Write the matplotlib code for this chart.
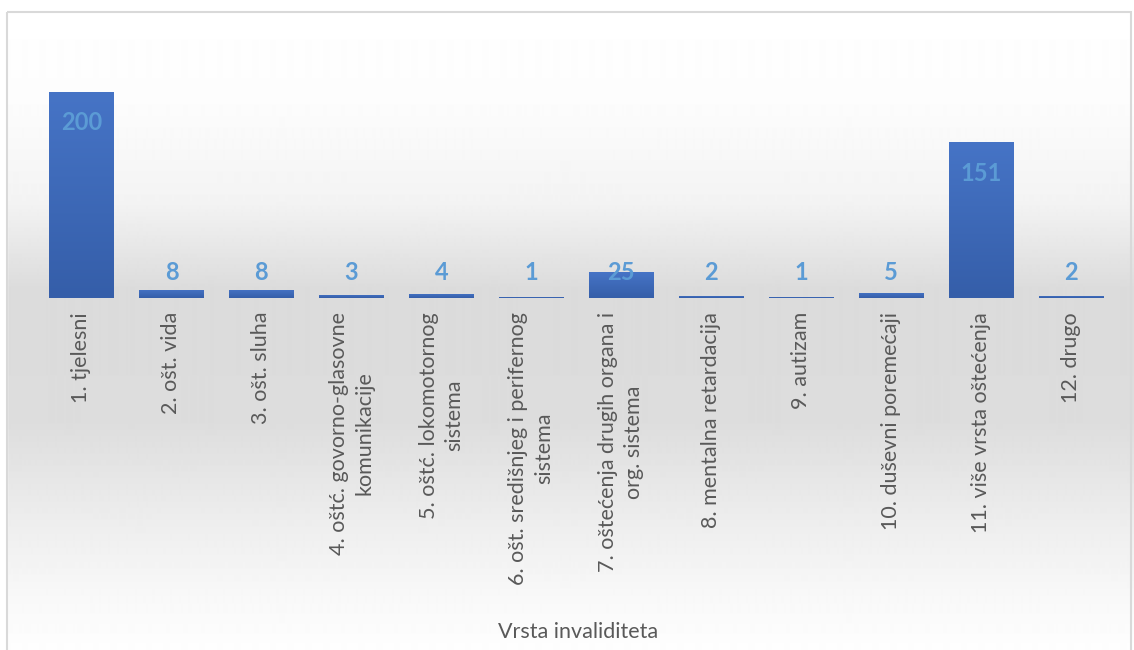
import numpy as np
import matplotlib
matplotlib.use('Agg')
import matplotlib.pyplot as plt
from matplotlib.patches import Rectangle
from matplotlib.colors import LinearSegmentedColormap

plt.rcParams['font.family'] = ['Lato', 'DejaVu Sans']

# data
categories = [
    '1. tjelesni',
    '2. ošt. vida',
    '3. ošt. sluha',
    '4. oštć. govorno-glasovne\nkomunikacije',
    '5. oštć. lokomotornog\nsistema',
    '6. ošt. središnjeg i perifernog\nsistema',
    '7. oštećenja drugih organa i\norg. sistema',
    '8. mentalna retardacija',
    '9. autizam',
    '10. duševni poremećaji',
    '11. više vrsta oštećenja',
    '12. drugo',
]
values = [200, 8, 8, 3, 4, 1, 25, 2, 1, 5, 151, 2]
axis_title = 'Vrsta invaliditeta'

W, H = 1134, 650
fig = plt.figure(figsize=(W / 100, H / 100), dpi=100)

# background: white -> grey -> white vertical gradient behind the chart
bg = fig.add_axes([0, 0, 1, 1], zorder=-2)
ys = np.arange(H)
stops_y = [0, 100, 200, 290, 420, 520, 600, 650]
stops_v = [1.0, 0.99, 0.955, 0.86, 0.865, 0.93, 0.975, 0.995]
shade = np.interp(ys, stops_y, stops_v)
grad = np.repeat(shade[:, None], 2, axis=1)
bg.imshow(grad, cmap='gray', vmin=0, vmax=1, aspect='auto',
          extent=[0, W, H, 0], interpolation='bilinear')
# white outside the chart border
bg.add_patch(Rectangle((0, 0), W, 12, color='white', zorder=3))
bg.add_patch(Rectangle((0, 0), 7, H, color='white', zorder=3))
bg.add_patch(Rectangle((7, 12), W - 10, H, fill=False, edgecolor='#d9d9d9',
                       linewidth=1.5, zorder=4))
bg.set_xlim(0, W)
bg.set_ylim(H, 0)
bg.axis('off')

ax = fig.add_axes([36.5 / W, (H - 298) / H, (1116 - 36.5) / W, 257.5 / H])
ax.patch.set_alpha(0)
x = np.arange(len(categories))
bars = ax.bar(x, values, width=0.72, color='#3f6dbf', zorder=2)

# vertical gradient on the bars (lighter on top)
bar_cmap = LinearSegmentedColormap.from_list('bar', ['#355ea9', '#4674c6'])
vgrad = np.linspace(0, 1, 256)[:, None]
for b in bars:
    x0, w, h = b.get_x(), b.get_width(), b.get_height()
    im = ax.imshow(vgrad, cmap=bar_cmap, aspect='auto', origin='lower',
                   extent=[x0, x0 + w, 0, h], zorder=2.1)
    im.set_clip_path(b)

for xi, v in zip(x, values):
    ax.text(xi, max(v - 30, 25), str(v), ha='center', va='center',
            fontsize=17, fontweight='bold', color='#5b9bd5', zorder=3)

ax.set_xlim(-0.5, len(categories) - 0.5)
ax.set_ylim(0, 250)
ax.set_yticks([])
ax.set_xticks(x)
ax.set_xticklabels(categories, rotation=90, fontsize=15.5, color='#595959',
                   multialignment='center', va='top', ha='center',
                   linespacing=1.35)
ax.tick_params(axis='x', length=0, pad=10)
for s in ax.spines.values():
    s.set_visible(False)

fig.text(578 / W, 1 - 632 / H, axis_title, ha='center', va='center',
         fontsize=15.5, color='#595959')

fig.savefig('out.png', dpi=100)
